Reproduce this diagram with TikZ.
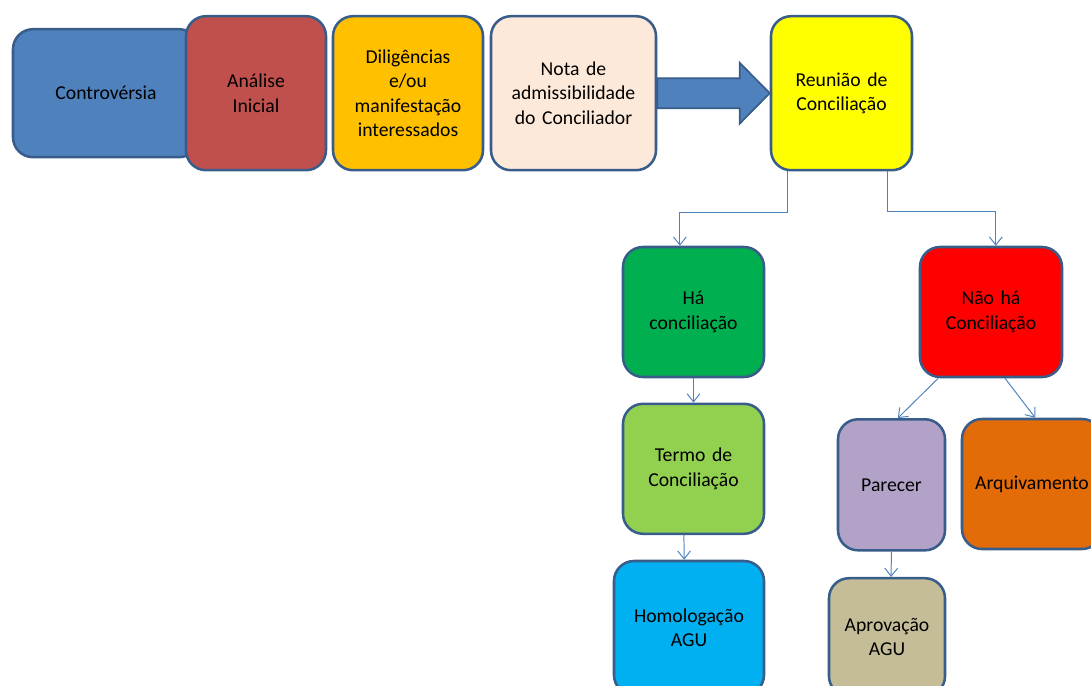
\documentclass[tikz,border=0pt]{standalone}
\usepackage{fontspec}
\setmainfont{Carlito}
\usetikzlibrary{arrows.meta,calc,positioning}
\definecolor{borda}{HTML}{385D8A}
\definecolor{linha}{HTML}{4F81BD}

\begin{document}
\begin{tikzpicture}[>={Straight Barb[length=2mm,width=3.2mm]},
    caixa/.style={draw=borda, line width=1.8pt, rounded corners=0.5cm, align=center, text=black, inner sep=2pt,
                  font=\fontsize{14}{17.4}\selectfont},
    conector/.style={->, draw=linha, line width=0.7pt}]
    \clip (0,0) rectangle (27.275,-17.15);
    \useasboundingbox (0,0) rectangle (27.275,-17.15);
    \node[caixa, fill={rgb,255:red,79;green,129;blue,189}, minimum width=4.65cm, minimum height=3.2cm, text width=4cm] (controversia) at (2.65,-2.33) {Controvérsia};
    \node[caixa, fill={rgb,255:red,192;green,80;blue,77}, minimum width=3.5cm, minimum height=3.85cm, text width=3cm] (analise) at (6.4,-2.33) {Análise\\Inicial};
    \node[caixa, fill={rgb,255:red,255;green,192;blue,0}, minimum width=3.75cm, minimum height=3.85cm, text width=3.3cm] (diligencias) at (10.2,-2.33) {Diligências\\e/ou\\manifestação\\interessados};
    \node[caixa, fill={rgb,255:red,253;green,233;blue,217}, minimum width=4.125cm, minimum height=3.85cm, text width=3.7cm] (nota) at (14.3375,-2.33) {Nota de\\admissibilidade\\do Conciliador};
    \node[caixa, fill={rgb,255:red,255;green,255;blue,0}, minimum width=3.525cm, minimum height=3.85cm, text width=3.1cm] (reuniao) at (21.0375,-2.33) {Reunião de\\Conciliação};
    \node[caixa, fill={rgb,255:red,0;green,176;blue,80}, minimum width=3.525cm, minimum height=3.25cm, text width=3.1cm] (ha) at (17.3375,-7.8) {Há\\conciliação};
    \node[caixa, fill={rgb,255:red,255;green,0;blue,0}, minimum width=3.55cm, minimum height=3.25cm, text width=3.1cm] (naoha) at (24.775,-7.8) {Não há\\Conciliação};
    \node[caixa, fill={rgb,255:red,146;green,208;blue,80}, minimum width=3.525cm, minimum height=3.25cm, text width=3.1cm] (termo) at (17.3375,-11.72) {Termo de\\Conciliação};
    \node[caixa, fill={rgb,255:red,0;green,176;blue,240}, minimum width=3.75cm, minimum height=3.35cm, text width=3.3cm] (homologacao) at (17.225,-15.7) {Homologação\\AGU};
    \node[caixa, fill={rgb,255:red,178;green,162;blue,199}, minimum width=2.675cm, minimum height=3.275cm, text width=2.3cm] (parecer) at (22.2875,-12.12) {Parecer};
    \node[caixa, fill={rgb,255:red,227;green,108;blue,9}, minimum width=3.5cm, minimum height=3.25cm, text width=3.1cm] (arquivamento) at (25.8,-12.1) {Arquivamento};
    \node[caixa, fill={rgb,255:red,196;green,189;blue,151}, minimum width=2.9cm, minimum height=2.95cm, text width=2.5cm] (aprovacao) at (22.175,-15.93) {Aprovação\\AGU};
    \fill[linha, draw=borda, line width=1.2pt] ($(nota.east)+(0,0.375)$) -- ($(reuniao.west)+(-0.75,0.375)$) -- ($(reuniao.west)+(-0.75,0.76)$)
        -- (reuniao.west) -- ($(reuniao.west)+(-0.75,-0.76)$) -- ($(reuniao.west)+(-0.75,-0.375)$) -- ($(nota.east)+(0,-0.375)$) -- cycle;
    \draw[conector] ([xshift=-1.34cm]reuniao.south) -- ++(0,-1.03) -| ([xshift=-0.34cm]ha.north);
    \draw[conector] ([xshift=1.16cm]reuniao.south) -- ++(0,-1.0) -| ([xshift=0.12cm]naoha.north);
    \draw[conector] (ha.south) -- (termo.north);
    \draw[conector] ([xshift=-0.24cm]termo.south) -- ([xshift=-0.12cm]homologacao.north);
    \draw[conector] ([xshift=-1.32cm]naoha.south) -- ([xshift=0.16cm]parecer.north);
    \draw[conector] ([xshift=0.35cm]naoha.south) -- ([xshift=0.08cm]arquivamento.north);
    \draw[conector] (parecer.south) -- ([xshift=0.1cm]aprovacao.north);
\end{tikzpicture}
\end{document}
